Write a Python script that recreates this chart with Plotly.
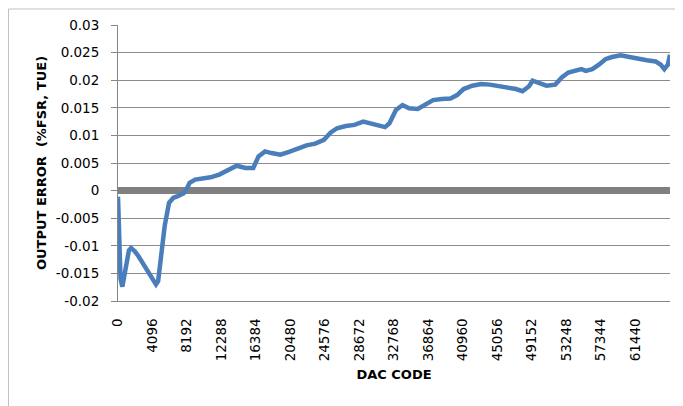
import plotly.graph_objects as go

# DAC code and total unadjusted error (%FSR)
dac_code = [0, 100, 300, 518, 780, 1300, 1550, 2000, 2435, 3212, 3990, 4507, 4766,
            5180, 5543, 6061, 6579, 7100, 7771, 8133, 8496, 9170, 9950, 10986, 12019,
            13054, 14090, 15126, 16060, 16681, 17458, 18236, 19272, 20308, 21344,
            22380, 23415, 24451, 25228, 26005, 27041, 28079, 29115, 30151, 31187,
            31705, 32223, 32999, 33777, 34554, 35590, 36626, 37404, 38440, 39476,
            40253, 41030, 42066, 43102, 44138, 45174, 46210, 47246, 48023, 48800,
            49217, 49838, 50873, 51910, 52688, 53465, 54501, 55019, 55537, 56314,
            57091, 57868, 58645, 59681, 60717, 61753, 62789, 63824, 64445, 64861,
            65275, 65535]
tue = [-0.0011, -0.0089, -0.0160, -0.0174, -0.0149, -0.0108, -0.0104, -0.0110,
       -0.0119, -0.0137, -0.0155, -0.0170, -0.0164, -0.0113, -0.0064, -0.0022,
       -0.0013, -0.0010, -0.0005, 0.0002, 0.0014, 0.0020, 0.0021, 0.0024, 0.0029,
       0.0037, 0.0045, 0.0041, 0.0041, 0.0062, 0.0071, 0.0068, 0.0065, 0.0070,
       0.0076, 0.0082, 0.0085, 0.0092, 0.0105, 0.0113, 0.0117, 0.0119, 0.0125,
       0.0121, 0.0119, 0.0115, 0.0122, 0.0146, 0.0155, 0.0149, 0.0148, 0.0158,
       0.0164, 0.0166, 0.0167, 0.0173, 0.0184, 0.0190, 0.0193, 0.0192, 0.0190,
       0.0187, 0.0184, 0.0180, 0.0189, 0.0199, 0.0195, 0.0190, 0.0192, 0.0205,
       0.0214, 0.0217, 0.0220, 0.0217, 0.0220, 0.0228, 0.0238, 0.0242, 0.0245,
       0.0242, 0.0238, 0.0236, 0.0234, 0.0228, 0.0220, 0.0228, 0.0246]

ideal_code = [0, 65535]
ideal = [0, 0]

x_ticks = [0, 4096, 8192, 12288, 16384, 20480, 24576, 28672, 32768, 36864,
           40960, 45056, 49152, 53248, 57344, 61440]
x_labels = [str(v) for v in x_ticks]
y_ticks = [0.03, 0.025, 0.02, 0.015, 0.01, 0.005, 0, -0.005, -0.01, -0.015, -0.02]
y_labels = ["0.03", "0.025", "0.02", "0.015", "0.01", "0.005", "0",
            "-0.005", "-0.01", "-0.015", "-0.02"]

fig = go.Figure()
fig.add_trace(go.Scatter(x=ideal_code, y=ideal, mode="lines",
                         line=dict(color="#808080", width=7), hoverinfo="skip"))
fig.add_trace(go.Scatter(x=dac_code, y=tue, mode="lines",
                         line=dict(color="#4a7ebb", width=4.5)))

font = "'DejaVu Sans', sans-serif"
fig.update_layout(
    width=675, height=398,
    margin=dict(l=110, r=13, t=17, b=105),
    paper_bgcolor="white", plot_bgcolor="white",
    showlegend=False,
    font=dict(family=font, size=13.5, color="#000000"),
    shapes=[dict(type="rect", xref="paper", yref="paper",
                 x0=-0.1984, x1=1.05, y0=-0.5, y1=1.058,
                 line=dict(color="#c0c0c0", width=1), fillcolor="rgba(0,0,0,0)",
                 layer="below")],
)
fig.update_xaxes(
    range=[0, 65535], tickmode="array", tickvals=x_ticks, ticktext=x_labels,
    tickangle=-90, showgrid=False, zeroline=False, automargin=False,
    showline=True, linecolor="#868686", linewidth=1,
    ticks="", ticklabelstandoff=11,
    tickfont=dict(size=13.5, family=font),
    title=dict(text="<b>DAC CODE</b>", font=dict(size=13, family=font), standoff=9),
)
fig.update_yaxes(
    range=[-0.02, 0.03], tickmode="array", tickvals=y_ticks, ticktext=y_labels,
    showgrid=True, gridcolor="#8c8c8c", gridwidth=1, zeroline=False, automargin=False,
    showline=True, linecolor="#868686", linewidth=1,
    ticks="outside", ticklen=6, tickcolor="#868686", ticklabelstandoff=9,
    tickfont=dict(size=13.5, family=font),
    title=dict(text="<b>OUTPUT ERROR  (%FSR, TUE)</b>", font=dict(size=13, family=font),
               standoff=6),
)

fig.write_html("out.html")
